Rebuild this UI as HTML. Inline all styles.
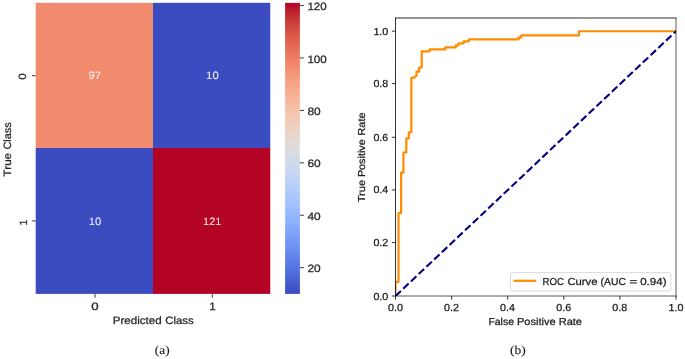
<!DOCTYPE html>
<html><head><meta charset="utf-8"><title>Confusion matrix and ROC curve</title>
<style>
html,body{margin:0;padding:0;background:#fff;}
body{width:685px;height:359px;overflow:hidden;font-family:"Liberation Sans",sans-serif;}
svg{display:block;will-change:transform;}
text{white-space:pre;text-rendering:geometricPrecision;}
</style></head><body>
<svg width="685" height="359" viewBox="0 0 685 359">
<rect x="153.0" y="2.8" width="117.25" height="145.20" fill="#3b4cc0"/>
<rect x="35.7" y="148.0" width="117.30" height="145.90" fill="#3b4cc0"/>
<rect x="35.7" y="2.8" width="117.30" height="145.20" fill="#f08b6e"/>
<rect x="153.0" y="148.0" width="117.25" height="145.90" fill="#b40426"/>
<text x="88.40" y="78.60" font-size="10.6" fill="#ffffff" fill-opacity="0.92"  stroke="#ffffff" stroke-width="0.05" font-family="Liberation Sans, sans-serif" textLength="12.60" lengthAdjust="spacingAndGlyphs">97</text>
<text x="206.10" y="78.60" font-size="10.6" fill="#ffffff" fill-opacity="0.92"  stroke="#ffffff" stroke-width="0.05" font-family="Liberation Sans, sans-serif" textLength="12.60" lengthAdjust="spacingAndGlyphs">10</text>
<text x="88.80" y="224.50" font-size="10.6" fill="#ffffff" fill-opacity="0.92"  stroke="#ffffff" stroke-width="0.05" font-family="Liberation Sans, sans-serif" textLength="12.60" lengthAdjust="spacingAndGlyphs">10</text>
<text x="203.00" y="224.50" font-size="10.6" fill="#ffffff" fill-opacity="0.92"  stroke="#ffffff" stroke-width="0.05" font-family="Liberation Sans, sans-serif" textLength="18.40" lengthAdjust="spacingAndGlyphs">121</text>
<line x1="95.00" x2="95.00" y1="293.9" y2="297.79999999999995" stroke="#262626" stroke-width="0.9"/>
<text x="91.30" y="309.60" font-size="10.6" fill="#262626"  stroke="#262626" stroke-width="0.25" font-family="Liberation Sans, sans-serif" textLength="7.40" lengthAdjust="spacingAndGlyphs">0</text>
<line x1="212.30" x2="212.30" y1="293.9" y2="297.79999999999995" stroke="#262626" stroke-width="0.9"/>
<text x="209.20" y="309.60" font-size="10.6" fill="#262626"  stroke="#262626" stroke-width="0.25" font-family="Liberation Sans, sans-serif" textLength="6.50" lengthAdjust="spacingAndGlyphs">1</text>
<line x1="32.0" x2="35.7" y1="75.70" y2="75.70" stroke="#262626" stroke-width="0.9"/>
<text x="25.90" y="79.80" font-size="10.6" fill="#262626"  stroke="#262626" stroke-width="0.25" font-family="Liberation Sans, sans-serif" textLength="6.55" lengthAdjust="spacingAndGlyphs" transform="rotate(-90 25.90 79.80)">0</text>
<line x1="32.0" x2="35.7" y1="220.90" y2="220.90" stroke="#262626" stroke-width="0.9"/>
<text x="26.50" y="225.50" font-size="10.6" fill="#262626"  stroke="#262626" stroke-width="0.25" font-family="Liberation Sans, sans-serif" textLength="5.90" lengthAdjust="spacingAndGlyphs" transform="rotate(-90 26.50 225.50)">1</text>
<text x="112.70" y="324.20" font-size="10.6" fill="#262626"  stroke="#262626" stroke-width="0.25" font-family="Liberation Sans, sans-serif" textLength="49.10" lengthAdjust="spacingAndGlyphs">Predicted</text>
<text x="165.30" y="324.20" font-size="10.6" fill="#262626"  stroke="#262626" stroke-width="0.25" font-family="Liberation Sans, sans-serif" textLength="28.30" lengthAdjust="spacingAndGlyphs">Class</text>
<text x="10.55" y="176.40" font-size="10.6" fill="#262626"  stroke="#262626" stroke-width="0.25" font-family="Liberation Sans, sans-serif" textLength="23.50" lengthAdjust="spacingAndGlyphs" transform="rotate(-90 10.55 176.40)">True</text>
<text x="10.55" y="149.60" font-size="10.6" fill="#262626"  stroke="#262626" stroke-width="0.25" font-family="Liberation Sans, sans-serif" textLength="27.30" lengthAdjust="spacingAndGlyphs" transform="rotate(-90 10.55 149.60)">Class</text>
<defs><linearGradient id="cw" x1="0" y1="0" x2="0" y2="1"><stop offset="0.0000" stop-color="#b40426"/><stop offset="0.0156" stop-color="#b8122a"/><stop offset="0.0312" stop-color="#be242e"/><stop offset="0.0469" stop-color="#c43032"/><stop offset="0.0625" stop-color="#ca3b37"/><stop offset="0.0781" stop-color="#cf453c"/><stop offset="0.0938" stop-color="#d44e41"/><stop offset="0.1094" stop-color="#d85646"/><stop offset="0.1250" stop-color="#dd5f4b"/><stop offset="0.1406" stop-color="#e16751"/><stop offset="0.1562" stop-color="#e46e56"/><stop offset="0.1719" stop-color="#e8765c"/><stop offset="0.1875" stop-color="#eb7d62"/><stop offset="0.2031" stop-color="#ee8468"/><stop offset="0.2188" stop-color="#f08b6e"/><stop offset="0.2344" stop-color="#f29274"/><stop offset="0.2500" stop-color="#f4987a"/><stop offset="0.2656" stop-color="#f59f80"/><stop offset="0.2812" stop-color="#f6a586"/><stop offset="0.2969" stop-color="#f7aa8c"/><stop offset="0.3125" stop-color="#f7b093"/><stop offset="0.3281" stop-color="#f7b599"/><stop offset="0.3438" stop-color="#f7ba9f"/><stop offset="0.3594" stop-color="#f6bfa6"/><stop offset="0.3750" stop-color="#f5c4ac"/><stop offset="0.3906" stop-color="#f3c8b2"/><stop offset="0.4062" stop-color="#f1ccb8"/><stop offset="0.4219" stop-color="#efcfbf"/><stop offset="0.4375" stop-color="#ecd3c5"/><stop offset="0.4531" stop-color="#e9d5cb"/><stop offset="0.4688" stop-color="#e5d8d1"/><stop offset="0.4844" stop-color="#e1dad6"/><stop offset="0.5000" stop-color="#dddcdc"/><stop offset="0.5156" stop-color="#d9dce1"/><stop offset="0.5312" stop-color="#d5dbe5"/><stop offset="0.5469" stop-color="#d1dae9"/><stop offset="0.5625" stop-color="#ccd9ed"/><stop offset="0.5781" stop-color="#c7d7f0"/><stop offset="0.5938" stop-color="#c3d5f4"/><stop offset="0.6094" stop-color="#bed2f6"/><stop offset="0.6250" stop-color="#b9d0f9"/><stop offset="0.6406" stop-color="#b3cdfb"/><stop offset="0.6562" stop-color="#aec9fc"/><stop offset="0.6719" stop-color="#a9c6fd"/><stop offset="0.6875" stop-color="#a3c2fe"/><stop offset="0.7031" stop-color="#9ebeff"/><stop offset="0.7188" stop-color="#98b9ff"/><stop offset="0.7344" stop-color="#93b5fe"/><stop offset="0.7500" stop-color="#8db0fe"/><stop offset="0.7656" stop-color="#88abfd"/><stop offset="0.7812" stop-color="#82a6fb"/><stop offset="0.7969" stop-color="#7da0f9"/><stop offset="0.8125" stop-color="#779af7"/><stop offset="0.8281" stop-color="#7295f4"/><stop offset="0.8438" stop-color="#6c8ff1"/><stop offset="0.8594" stop-color="#6788ee"/><stop offset="0.8750" stop-color="#6282ea"/><stop offset="0.8906" stop-color="#5d7ce6"/><stop offset="0.9062" stop-color="#5875e1"/><stop offset="0.9219" stop-color="#536edd"/><stop offset="0.9375" stop-color="#4e68d8"/><stop offset="0.9531" stop-color="#4961d2"/><stop offset="0.9688" stop-color="#445acc"/><stop offset="0.9844" stop-color="#3f53c6"/><stop offset="1.0000" stop-color="#3b4cc0"/></linearGradient></defs>
<rect x="285.1" y="2.9" width="14.80" height="291.00" fill="url(#cw)"/>
<line x1="299.9" x2="303.9" y1="267.68" y2="267.68" stroke="#262626" stroke-width="0.9"/>
<text x="307.40" y="272.23" font-size="10.6" fill="#262626"  stroke="#262626" stroke-width="0.25" font-family="Liberation Sans, sans-serif" textLength="13.30" lengthAdjust="spacingAndGlyphs">20</text>
<line x1="299.9" x2="303.9" y1="215.25" y2="215.25" stroke="#262626" stroke-width="0.9"/>
<text x="307.40" y="219.80" font-size="10.6" fill="#262626"  stroke="#262626" stroke-width="0.25" font-family="Liberation Sans, sans-serif" textLength="13.30" lengthAdjust="spacingAndGlyphs">40</text>
<line x1="299.9" x2="303.9" y1="162.82" y2="162.82" stroke="#262626" stroke-width="0.9"/>
<text x="307.40" y="167.37" font-size="10.6" fill="#262626"  stroke="#262626" stroke-width="0.25" font-family="Liberation Sans, sans-serif" textLength="13.30" lengthAdjust="spacingAndGlyphs">60</text>
<line x1="299.9" x2="303.9" y1="110.39" y2="110.39" stroke="#262626" stroke-width="0.9"/>
<text x="307.40" y="114.94" font-size="10.6" fill="#262626"  stroke="#262626" stroke-width="0.25" font-family="Liberation Sans, sans-serif" textLength="13.30" lengthAdjust="spacingAndGlyphs">80</text>
<line x1="299.9" x2="303.9" y1="57.95" y2="57.95" stroke="#262626" stroke-width="0.9"/>
<text x="307.40" y="62.50" font-size="10.6" fill="#262626"  stroke="#262626" stroke-width="0.25" font-family="Liberation Sans, sans-serif" textLength="19.40" lengthAdjust="spacingAndGlyphs">100</text>
<line x1="299.9" x2="303.9" y1="5.52" y2="5.52" stroke="#262626" stroke-width="0.9"/>
<text x="307.40" y="10.07" font-size="10.6" fill="#262626"  stroke="#262626" stroke-width="0.25" font-family="Liberation Sans, sans-serif" textLength="19.40" lengthAdjust="spacingAndGlyphs">120</text>
<text x="154.80" y="353.70" font-size="12.2" fill="#1a1a1a"  stroke="#1a1a1a" stroke-width="0.12" font-family="Liberation Serif, serif" textLength="14.80" lengthAdjust="spacingAndGlyphs">(a)</text>
<clipPath id="axc"><rect x="395.5" y="18.0" width="280.5" height="278.0"/></clipPath>
<g clip-path="url(#axc)">
<path d="M395.50 296.00 L395.50 281.85 L398.50 281.85 L398.50 213.14 L401.10 213.14 L401.10 172.71 L403.40 172.71 L403.40 152.50 L406.30 152.50 L406.30 138.36 L408.80 138.36 L408.80 132.29 L411.40 132.29 L411.40 77.72 L413.85 77.72 L416.47 75.70 L416.47 71.66 L419.09 71.66 L419.09 67.62 L421.71 67.62 L421.71 51.45 L429.58 51.45 L429.58 49.43 L445.31 49.43 L445.31 47.41 L455.79 47.41 L455.79 45.39 L458.42 45.39 L458.42 43.36 L463.66 43.36 L463.66 41.34 L468.90 41.34 L468.90 39.32 L518.71 39.32 L518.71 37.30 L521.33 37.30 L521.33 35.28 L579.00 35.28 L579.00 31.24 L676.00 31.24" fill="none" stroke="#ff8c00" stroke-width="2.2" stroke-linejoin="round" stroke-linecap="square"/>
<line x1="395.50" y1="296.00" x2="676.00" y2="31.24" stroke="#000080" stroke-width="2.1" stroke-dasharray="7.42 3.21"/>
</g>
<path d="M395.5 296.4 V17.6" fill="none" stroke="#000" stroke-width="0.8"/>
<path d="M395.1 18.0 H676.4" fill="none" stroke="#000" stroke-width="0.82"/>
<path d="M676.0 17.6 V296.4" fill="none" stroke="#000" stroke-width="0.66"/>
<path d="M395.1 296.0 H676.4" fill="none" stroke="#000" stroke-width="0.66"/>
<line x1="395.50" x2="395.50" y1="296.0" y2="299.6" stroke="#000" stroke-width="0.8"/>
<line x1="391.9" x2="395.5" y1="296.00" y2="296.00" stroke="#000" stroke-width="0.8"/>
<text x="387.90" y="310.90" font-size="10.1" fill="#1a1a1a"  stroke="#1a1a1a" stroke-width="0.25" font-family="Liberation Sans, sans-serif" textLength="15.00" lengthAdjust="spacingAndGlyphs">0.0</text>
<text x="373.40" y="299.50" font-size="10.1" fill="#1a1a1a"  stroke="#1a1a1a" stroke-width="0.25" font-family="Liberation Sans, sans-serif" textLength="14.90" lengthAdjust="spacingAndGlyphs">0.0</text>
<line x1="451.60" x2="451.60" y1="296.0" y2="299.6" stroke="#000" stroke-width="0.8"/>
<line x1="391.9" x2="395.5" y1="242.60" y2="242.60" stroke="#000" stroke-width="0.8"/>
<text x="444.00" y="310.90" font-size="10.1" fill="#1a1a1a"  stroke="#1a1a1a" stroke-width="0.25" font-family="Liberation Sans, sans-serif" textLength="15.00" lengthAdjust="spacingAndGlyphs">0.2</text>
<text x="373.40" y="246.10" font-size="10.1" fill="#1a1a1a"  stroke="#1a1a1a" stroke-width="0.25" font-family="Liberation Sans, sans-serif" textLength="14.90" lengthAdjust="spacingAndGlyphs">0.2</text>
<line x1="507.70" x2="507.70" y1="296.0" y2="299.6" stroke="#000" stroke-width="0.8"/>
<line x1="391.9" x2="395.5" y1="189.95" y2="189.95" stroke="#000" stroke-width="0.8"/>
<text x="500.10" y="310.90" font-size="10.1" fill="#1a1a1a"  stroke="#1a1a1a" stroke-width="0.25" font-family="Liberation Sans, sans-serif" textLength="15.00" lengthAdjust="spacingAndGlyphs">0.4</text>
<text x="373.40" y="193.45" font-size="10.1" fill="#1a1a1a"  stroke="#1a1a1a" stroke-width="0.25" font-family="Liberation Sans, sans-serif" textLength="14.90" lengthAdjust="spacingAndGlyphs">0.4</text>
<line x1="563.80" x2="563.80" y1="296.0" y2="299.6" stroke="#000" stroke-width="0.8"/>
<line x1="391.9" x2="395.5" y1="137.30" y2="137.30" stroke="#000" stroke-width="0.8"/>
<text x="556.20" y="310.90" font-size="10.1" fill="#1a1a1a"  stroke="#1a1a1a" stroke-width="0.25" font-family="Liberation Sans, sans-serif" textLength="15.00" lengthAdjust="spacingAndGlyphs">0.6</text>
<text x="373.40" y="140.80" font-size="10.1" fill="#1a1a1a"  stroke="#1a1a1a" stroke-width="0.25" font-family="Liberation Sans, sans-serif" textLength="14.90" lengthAdjust="spacingAndGlyphs">0.6</text>
<line x1="619.90" x2="619.90" y1="296.0" y2="299.6" stroke="#000" stroke-width="0.8"/>
<line x1="391.9" x2="395.5" y1="83.60" y2="83.60" stroke="#000" stroke-width="0.8"/>
<text x="612.30" y="310.90" font-size="10.1" fill="#1a1a1a"  stroke="#1a1a1a" stroke-width="0.25" font-family="Liberation Sans, sans-serif" textLength="15.00" lengthAdjust="spacingAndGlyphs">0.8</text>
<text x="373.40" y="87.10" font-size="10.1" fill="#1a1a1a"  stroke="#1a1a1a" stroke-width="0.25" font-family="Liberation Sans, sans-serif" textLength="14.90" lengthAdjust="spacingAndGlyphs">0.8</text>
<line x1="676.00" x2="676.00" y1="296.0" y2="299.6" stroke="#000" stroke-width="0.8"/>
<line x1="391.9" x2="395.5" y1="31.15" y2="31.15" stroke="#000" stroke-width="0.8"/>
<text x="668.40" y="310.90" font-size="10.1" fill="#1a1a1a"  stroke="#1a1a1a" stroke-width="0.25" font-family="Liberation Sans, sans-serif" textLength="15.00" lengthAdjust="spacingAndGlyphs">1.0</text>
<text x="373.40" y="34.65" font-size="10.1" fill="#1a1a1a"  stroke="#1a1a1a" stroke-width="0.25" font-family="Liberation Sans, sans-serif" textLength="14.90" lengthAdjust="spacingAndGlyphs">1.0</text>
<text x="488.40" y="324.70" font-size="10.1" fill="#1a1a1a"  stroke="#1a1a1a" stroke-width="0.25" font-family="Liberation Sans, sans-serif" textLength="25.60" lengthAdjust="spacingAndGlyphs">False</text>
<text x="517.00" y="324.70" font-size="10.1" fill="#1a1a1a"  stroke="#1a1a1a" stroke-width="0.25" font-family="Liberation Sans, sans-serif" textLength="38.70" lengthAdjust="spacingAndGlyphs">Positive</text>
<text x="558.70" y="324.70" font-size="10.1" fill="#1a1a1a"  stroke="#1a1a1a" stroke-width="0.25" font-family="Liberation Sans, sans-serif" textLength="23.30" lengthAdjust="spacingAndGlyphs">Rate</text>
<text x="365.40" y="202.20" font-size="10.1" fill="#1a1a1a"  stroke="#1a1a1a" stroke-width="0.25" font-family="Liberation Sans, sans-serif" textLength="22.30" lengthAdjust="spacingAndGlyphs" transform="rotate(-90 365.40 202.20)">True</text>
<text x="365.40" y="177.10" font-size="10.1" fill="#1a1a1a"  stroke="#1a1a1a" stroke-width="0.25" font-family="Liberation Sans, sans-serif" textLength="37.80" lengthAdjust="spacingAndGlyphs" transform="rotate(-90 365.40 177.10)">Positive</text>
<text x="365.40" y="135.70" font-size="10.1" fill="#1a1a1a"  stroke="#1a1a1a" stroke-width="0.25" font-family="Liberation Sans, sans-serif" textLength="23.30" lengthAdjust="spacingAndGlyphs" transform="rotate(-90 365.40 135.70)">Rate</text>
<rect x="510.4" y="272.6" width="160.5" height="18.4" rx="2" ry="2" fill="#fff" fill-opacity="0.8" stroke="#cccccc" stroke-opacity="0.8" stroke-width="0.9"/>
<line x1="513.6" x2="536.2" y1="280.8" y2="280.8" stroke="#ff8c00" stroke-width="2.2"/>
<text x="542.60" y="284.50" font-size="10.1" fill="#1a1a1a"  stroke="#1a1a1a" stroke-width="0.25" font-family="Liberation Sans, sans-serif" textLength="21.40" lengthAdjust="spacingAndGlyphs">ROC</text>
<text x="567.40" y="284.50" font-size="10.1" fill="#1a1a1a"  stroke="#1a1a1a" stroke-width="0.25" font-family="Liberation Sans, sans-serif" textLength="30.20" lengthAdjust="spacingAndGlyphs">Curve</text>
<text x="600.60" y="284.50" font-size="10.1" fill="#1a1a1a"  stroke="#1a1a1a" stroke-width="0.25" font-family="Liberation Sans, sans-serif" textLength="25.30" lengthAdjust="spacingAndGlyphs">(AUC</text>
<text x="629.40" y="284.50" font-size="10.1" fill="#1a1a1a"  stroke="#1a1a1a" stroke-width="0.25" font-family="Liberation Sans, sans-serif" textLength="7.70" lengthAdjust="spacingAndGlyphs">=</text>
<text x="640.20" y="284.50" font-size="10.1" fill="#1a1a1a"  stroke="#1a1a1a" stroke-width="0.25" font-family="Liberation Sans, sans-serif" textLength="26.30" lengthAdjust="spacingAndGlyphs">0.94)</text>
<text x="509.90" y="353.80" font-size="12.2" fill="#1a1a1a"  stroke="#1a1a1a" stroke-width="0.12" font-family="Liberation Serif, serif" textLength="15.80" lengthAdjust="spacingAndGlyphs">(b)</text>
</svg>
</body></html>
